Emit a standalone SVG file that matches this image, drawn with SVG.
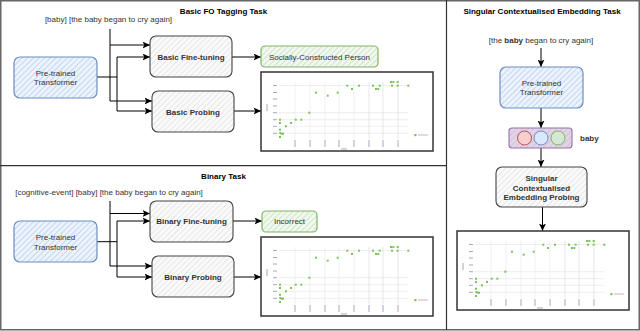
<svg xmlns="http://www.w3.org/2000/svg" xmlns:xlink="http://www.w3.org/1999/xlink" width="640" height="331" viewBox="0 0 640 331">
<style>
text{font-family:"Liberation Sans",Arial,sans-serif;font-size:8px;fill:#333}
.b{font-weight:bold}
.t{font-weight:bold;fill:#000}
.mid{text-anchor:middle}
.conn{fill:none;stroke:#000;stroke-width:1}
.arr{marker-end:url(#ah)}
.blue{fill:url(#hb);stroke:#6c8ebf;stroke-width:1.2}
.gray{fill:url(#hg);stroke:#444;stroke-width:1.1}
.green{fill:url(#hgr);stroke:#82b366;stroke-width:1.2}
.frame{fill:none;stroke:#333;stroke-width:1.2}
.grid{stroke:#e2e2e2;stroke-width:0.6}
.vgrid{stroke:#e6e6e6;stroke-width:0.6}
.tick{stroke:#a3a8c0;stroke-width:1}
.dot{fill:#7cc35a}
</style>
<defs>
<pattern id="hb" width="4" height="4" patternUnits="userSpaceOnUse" patternTransform="rotate(45)"><rect width="4" height="4" fill="#edf3fc"/><line x1="0.5" y1="0" x2="0.5" y2="4" stroke="#c3d6f2" stroke-width="1"/></pattern>
<pattern id="hg" width="4" height="4" patternUnits="userSpaceOnUse" patternTransform="rotate(45)"><rect width="4" height="4" fill="#fafafa"/><line x1="0.5" y1="0" x2="0.5" y2="4" stroke="#e6e6e6" stroke-width="1"/></pattern>
<pattern id="hgr" width="4" height="4" patternUnits="userSpaceOnUse" patternTransform="rotate(45)"><rect width="4" height="4" fill="#f1f8ef"/><line x1="0.5" y1="0" x2="0.5" y2="4" stroke="#cfe5c8" stroke-width="1"/></pattern>
<pattern id="hp" width="4" height="4" patternUnits="userSpaceOnUse" patternTransform="rotate(45)"><rect width="4" height="4" fill="#e1d5e7"/><line x1="0.5" y1="0" x2="0.5" y2="4" stroke="#d2c1da" stroke-width="1"/></pattern>
<marker id="ah" markerWidth="8" markerHeight="7" refX="7.5" refY="3.5" orient="auto" markerUnits="userSpaceOnUse"><path d="M0,0 L7.5,3.5 L0,7 L1.8,3.5 z" fill="#000"/></marker>
<g id="chart">
<rect x="0" y="0" width="172" height="79" fill="#fff" stroke="#333" stroke-width="1.5"/>
<g class="grid"><line x1="18" y1="13.5" x2="147" y2="13.5"/><line x1="18" y1="40.7" x2="147" y2="40.7"/><line x1="18" y1="47.7" x2="147" y2="47.7"/><line x1="18" y1="54.3" x2="147" y2="54.3"/><line x1="18" y1="61.3" x2="147" y2="61.3"/></g>
<g class="vgrid"><line x1="34" y1="10" x2="34" y2="67"/><line x1="49" y1="10" x2="49" y2="67"/><line x1="64" y1="10" x2="64" y2="67"/><line x1="78" y1="10" x2="78" y2="67"/><line x1="93" y1="10" x2="93" y2="67"/><line x1="108" y1="10" x2="108" y2="67" stroke="#d6d6d6"/><line x1="122" y1="10" x2="122" y2="67" stroke="#d6d6d6"/><line x1="137" y1="10" x2="137" y2="67" stroke="#d6d6d6"/></g>
<g class="tick"><line x1="12" y1="13.5" x2="16" y2="13.5"/><line x1="12" y1="20.5" x2="16" y2="20.5"/><line x1="12" y1="27" x2="16" y2="27"/><line x1="12" y1="34" x2="16" y2="34"/><line x1="12" y1="40.7" x2="16" y2="40.7"/><line x1="12" y1="47.7" x2="16" y2="47.7"/><line x1="12" y1="54.3" x2="16" y2="54.3"/><line x1="12" y1="61.3" x2="16" y2="61.3"/>
<line x1="34" y1="68" x2="34" y2="75"/><line x1="49" y1="68" x2="49" y2="75"/><line x1="64" y1="68" x2="64" y2="75"/><line x1="78" y1="68" x2="78" y2="75"/><line x1="93" y1="68" x2="93" y2="75"/><line x1="108" y1="68" x2="108" y2="75"/><line x1="122" y1="68" x2="122" y2="75"/><line x1="137" y1="68" x2="137" y2="75" stroke="#c9a0b0"/>
<line x1="80" y1="77" x2="86" y2="77"/><line x1="6" y1="32" x2="6" y2="39"/><line x1="157" y1="63" x2="167" y2="63" stroke="#d0b0b8"/></g>
<g class="dot"><rect x="18.3" y="60" width="2" height="2"/><rect x="19.6" y="60.7" width="2" height="2"/><rect x="21" y="60.7" width="2" height="2"/><rect x="18" y="64" width="2" height="2"/><rect x="18" y="56.7" width="2" height="2"/><rect x="18" y="50" width="2" height="2"/><rect x="18" y="46.7" width="2" height="2"/><rect x="24" y="53.3" width="2" height="2"/><rect x="29" y="50" width="2" height="2"/><rect x="33.7" y="46.7" width="2" height="2"/><rect x="39.3" y="46.7" width="2" height="2"/><rect x="47.3" y="39.7" width="2" height="2"/><rect x="54" y="19.7" width="2" height="2"/><rect x="65.7" y="22.7" width="2" height="2"/><rect x="75.7" y="19.7" width="2" height="2"/><rect x="85.3" y="12.7" width="2" height="2"/><rect x="90" y="16" width="2" height="2"/><rect x="97" y="12.7" width="2" height="2"/><rect x="111" y="12.7" width="2" height="2"/><rect x="114" y="16" width="2" height="2"/><rect x="116.3" y="16" width="2" height="2"/><rect x="117.7" y="12.7" width="2" height="2"/><rect x="129" y="9" width="2" height="2"/><rect x="131.3" y="9" width="2" height="2"/><rect x="135.7" y="9" width="2" height="2"/><rect x="130" y="12.7" width="2" height="2"/><rect x="135.7" y="12.7" width="2" height="2"/><rect x="146.3" y="12.7" width="2" height="2"/><rect x="153.3" y="62" width="2.2" height="2.2"/></g>
</g>
</defs>
<rect x="0" y="0" width="640" height="331" fill="#fff"/>
<g id="panels" fill="none">
<rect x="0.75" y="0.75" width="638.5" height="329" stroke="#666" stroke-width="1.5"/>
<line x1="446.5" y1="0" x2="446.5" y2="330" stroke="#333" stroke-width="1.2"/>
<line x1="0" y1="165.7" x2="446.5" y2="165.7" stroke="#333" stroke-width="1.2"/>
</g>
<g id="titles">
<text class="t mid" x="223.5" y="14">Basic FO Tagging Task</text>
<text class="t mid" x="223.5" y="178.5">Binary Task</text>
<text class="t mid" x="542" y="14">Singular Contextualised Embedding Task</text>
<text class="mid" x="108.5" y="22">[baby] [the baby began to cry again]</text>
<text class="mid" x="109" y="194.5">[cognitive-event] [baby] [the baby began to cry again]</text>
<text class="mid" x="541" y="43">[the <tspan class="b">baby</tspan> began to cry again]</text>
</g>
<g id="connectors">
<path class="conn" d="M110,29 V101 M97,77 H117 M117,57 V111"/>
<path class="conn arr" d="M110,45 H150"/>
<path class="conn arr" d="M117,57 H150"/>
<path class="conn arr" d="M110,101 H152"/>
<path class="conn arr" d="M117,111 H152"/>
<path class="conn arr" d="M232,57 H261"/>
<path class="conn arr" d="M234,111 H261"/>
<path class="conn" d="M110,201 V266 M97,241.7 H117 M117,221 V277"/>
<path class="conn arr" d="M110,213.5 H150"/>
<path class="conn arr" d="M117,221 H150"/>
<path class="conn arr" d="M110,266 H152"/>
<path class="conn arr" d="M117,277 H152"/>
<path class="conn arr" d="M233,221 H262"/>
<path class="conn arr" d="M234,277 H261"/>
<path class="conn arr" d="M541,48 V67"/>
<path class="conn arr" d="M541,108 V128"/>
<path class="conn arr" d="M541,148 V167"/>
<path class="conn arr" d="M542.5,207 V231"/>
</g>
<g id="pt1"><rect class="blue" x="14" y="57" width="83" height="41" rx="6"/><text class="mid" x="55.5" y="75.5">Pre-trained</text><text class="mid" x="55.5" y="85">Transformer</text></g>
<g id="basic-finetuning"><rect class="gray" x="150" y="36" width="82" height="41" rx="6"/><text class="b mid" x="191" y="60">Basic Fine-tuning</text></g>
<g id="basic-probing"><rect class="gray" x="152" y="91" width="82" height="41" rx="6"/><text class="b mid" x="193" y="114.5">Basic Probing</text></g>
<g id="socially"><rect class="green" x="261" y="46" width="117" height="21" rx="4"/><text class="mid" x="319.5" y="60">Socially-Constructed Person</text></g>
<g id="chart1"><use xlink:href="#chart" href="#chart" x="261" y="72"/></g>
<g id="pt2"><rect class="blue" x="14" y="221" width="83" height="41" rx="6"/><text class="mid" x="55.5" y="240">Pre-trained</text><text class="mid" x="55.5" y="249.5">Transformer</text></g>
<g id="binary-finetuning"><rect class="gray" x="150" y="201" width="83" height="41" rx="6"/><text class="b mid" x="191.5" y="224">Binary Fine-tuning</text></g>
<g id="binary-probing"><rect class="gray" x="152" y="256" width="82" height="41" rx="6"/><text class="b mid" x="193" y="279.5">Binary Probing</text></g>
<g id="incorrect"><rect class="green" x="262" y="211" width="55" height="21" rx="4"/><text class="mid" x="289.5" y="224">Incorrect</text></g>
<g id="chart2"><use xlink:href="#chart" href="#chart" x="261" y="237"/></g>
<g id="pt3"><rect class="blue" x="500" y="67" width="83" height="41" rx="6"/><text class="mid" x="541.5" y="85.5">Pre-trained</text><text class="mid" x="541.5" y="95">Transformer</text></g>
<g id="embedding"><rect x="509" y="128" width="63" height="20" rx="3" fill="url(#hp)" stroke="#9673a6" stroke-width="1.1"/><circle cx="524.5" cy="138" r="7" fill="#f8cecc" stroke="#b85450"/><circle cx="541" cy="138" r="7" fill="#dae8fc" stroke="#6c8ebf"/><circle cx="558" cy="138" r="7" fill="#d5e8d4" stroke="#82b366"/><text class="b" x="580" y="141">baby</text></g>
<g id="sce-probing"><rect class="gray" x="496" y="167" width="91" height="40" rx="6"/><text class="b mid" x="541.5" y="181">Singular</text><text class="b mid" x="541.5" y="190.5">Contextualised</text><text class="b mid" x="541.5" y="200">Embedding Probing</text></g>
<g id="chart3"><use xlink:href="#chart" href="#chart" x="457" y="231"/></g>
</svg>
